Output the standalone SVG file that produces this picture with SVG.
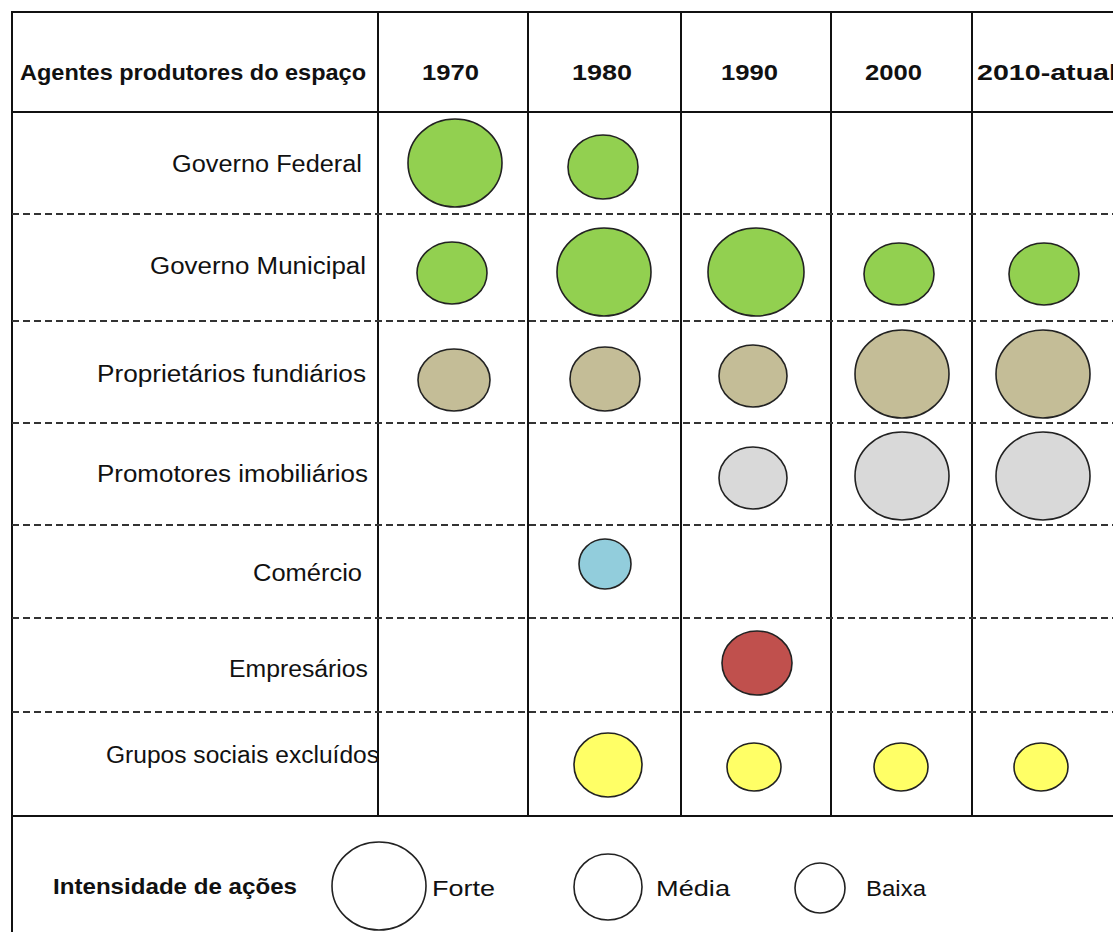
<svg xmlns="http://www.w3.org/2000/svg" width="1113" height="932" viewBox="0 0 1113 932">
<style>
text{font-family:"Liberation Sans",Arial,sans-serif;fill:#111}
.h{font-weight:bold;font-size:22px}
.l{font-size:23px;text-anchor:end}
.lg{font-size:22px}
.grid{stroke:#111;stroke-width:2;fill:none}
.dash{stroke:#333;stroke-width:2;stroke-dasharray:7 4;fill:none}
ellipse{stroke:#222;stroke-width:1.6}
.g{fill:#92D050}.t{fill:#C4BD97}.s{fill:#D9D9D9}.b{fill:#92CDDC}.r{fill:#C0504D}.y{fill:#FFFF66}.w{fill:#fff}
</style>
<rect width="1113" height="932" fill="#fff"/>
<g id="grid">
<path class="grid" d="M12,932 V12 H1113 M12,112 H1113 M12,816 H1113 M378,12 V816 M528,12 V816 M681,12 V816 M831,12 V816 M972,12 V816"/>
<path class="dash" d="M12,214 H1113 M12,321 H1113 M12,423 H1113 M12,525 H1113 M12,618 H1113 M12,712 H1113"/>
</g>
<g id="header">
<text class="h" x="20" y="80" textLength="346" lengthAdjust="spacingAndGlyphs">Agentes produtores do espaço</text>
<text class="h" x="422" y="80" textLength="57" lengthAdjust="spacingAndGlyphs">1970</text>
<text class="h" x="572" y="80" textLength="60" lengthAdjust="spacingAndGlyphs">1980</text>
<text class="h" x="721" y="80" textLength="57" lengthAdjust="spacingAndGlyphs">1990</text>
<text class="h" x="865" y="80" textLength="57" lengthAdjust="spacingAndGlyphs">2000</text>
<text class="h" x="977" y="80" textLength="140" lengthAdjust="spacingAndGlyphs">2010-atual</text>
</g>
<g id="row-governo-federal">
<text class="l" x="362" y="172" textLength="190" lengthAdjust="spacingAndGlyphs">Governo Federal</text>
<ellipse class="g" cx="455" cy="163" rx="47" ry="44"/>
<ellipse class="g" cx="603" cy="167" rx="35" ry="32"/>
</g>
<g id="row-governo-municipal">
<text class="l" x="366" y="274" textLength="216" lengthAdjust="spacingAndGlyphs">Governo Municipal</text>
<ellipse class="g" cx="452" cy="273" rx="35" ry="31"/>
<ellipse class="g" cx="604" cy="272" rx="47" ry="44"/>
<ellipse class="g" cx="756" cy="272" rx="48" ry="44"/>
<ellipse class="g" cx="899" cy="274" rx="35" ry="31"/>
<ellipse class="g" cx="1044" cy="274" rx="35" ry="31"/>
</g>
<g id="row-proprietarios">
<text class="l" x="366" y="382" textLength="269" lengthAdjust="spacingAndGlyphs">Proprietários fundiários</text>
<ellipse class="t" cx="454" cy="380" rx="36" ry="31"/>
<ellipse class="t" cx="605" cy="379" rx="35" ry="32"/>
<ellipse class="t" cx="753" cy="376" rx="34" ry="31"/>
<ellipse class="t" cx="902" cy="374" rx="47" ry="44"/>
<ellipse class="t" cx="1043" cy="374" rx="47" ry="44"/>
</g>
<g id="row-promotores">
<text class="l" x="368" y="482" textLength="271" lengthAdjust="spacingAndGlyphs">Promotores imobiliários</text>
<ellipse class="s" cx="753" cy="478" rx="34" ry="31"/>
<ellipse class="s" cx="902" cy="476" rx="47" ry="44"/>
<ellipse class="s" cx="1043" cy="476" rx="47" ry="44"/>
</g>
<g id="row-comercio">
<text class="l" x="362" y="581" textLength="109" lengthAdjust="spacingAndGlyphs">Comércio</text>
<ellipse class="b" cx="605" cy="564" rx="26" ry="25"/>
</g>
<g id="row-empresarios">
<text class="l" x="368" y="677" textLength="139" lengthAdjust="spacingAndGlyphs">Empresários</text>
<ellipse class="r" cx="757" cy="663" rx="35" ry="32"/>
</g>
<g id="row-grupos">
<text class="l" x="379" y="763" textLength="273" lengthAdjust="spacingAndGlyphs">Grupos sociais excluídos</text>
<ellipse class="y" cx="608" cy="765" rx="34" ry="32"/>
<ellipse class="y" cx="754" cy="767" rx="27" ry="24"/>
<ellipse class="y" cx="901" cy="767" rx="27" ry="24"/>
<ellipse class="y" cx="1041" cy="767" rx="27" ry="24"/>
</g>
<g id="legend">
<text class="h" x="53" y="894" textLength="244" lengthAdjust="spacingAndGlyphs">Intensidade de ações</text>
<ellipse class="w" cx="379" cy="886" rx="47" ry="44"/>
<text class="lg" x="432" y="896" textLength="63" lengthAdjust="spacingAndGlyphs">Forte</text>
<ellipse class="w" cx="608" cy="887" rx="34" ry="33"/>
<text class="lg" x="656" y="896" textLength="74" lengthAdjust="spacingAndGlyphs">Média</text>
<ellipse class="w" cx="820" cy="888" rx="25" ry="25"/>
<text class="lg" x="866" y="896" textLength="60" lengthAdjust="spacingAndGlyphs">Baixa</text>
</g>
</svg>
